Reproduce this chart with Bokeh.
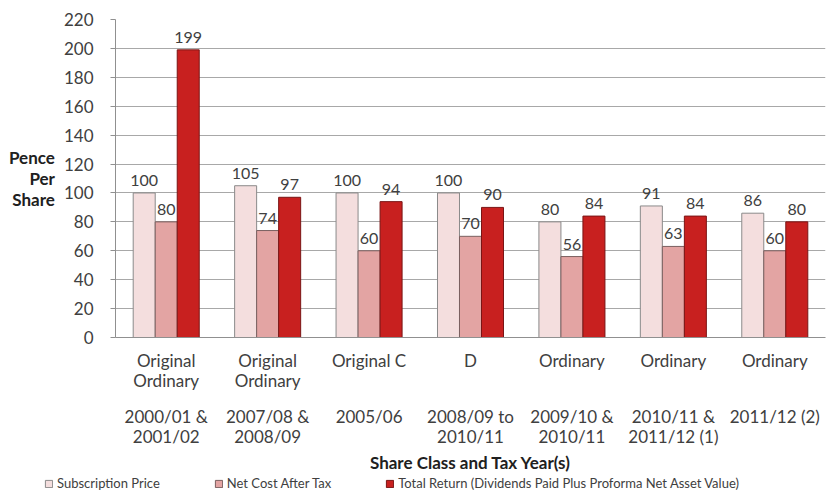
from bokeh.plotting import figure
from bokeh.models import (ColumnDataSource, LinearAxis, FixedTicker, Range1d,
                          Legend, LegendItem, LabelSet)
from bokeh.layouts import column, row
from bokeh.core.properties import value
from bokeh.embed import file_html
from bokeh.resources import INLINE

share_classes = ["Original\nOrdinary", "Original\nOrdinary", "Original C", "D",
                 "Ordinary", "Ordinary", "Ordinary"]
tax_years = ["2000/01 &\n2001/02", "2007/08 &\n2008/09", "2005/06",
             "2008/09 to\n2010/11", "2009/10 &\n2010/11", "2010/11 &\n2011/12 (1)",
             "2011/12 (2)"]
subscription_price = [100, 105, 100, 100, 80, 91, 86]
net_cost_after_tax = [80, 74, 60, 70, 56, 63, 60]
total_return = [199, 97, 94, 90, 84, 84, 80]
series_names = ["Subscription Price", "Net Cost After Tax",
                "Total Return (Dividends Paid Plus Proforma Net Asset Value)"]
y_ticks = [0, 20, 40, 60, 80, 100, 120, 140, 160, 180, 200, 220]

FONT = "Lato"
TXT = "#404040"
colors = ["#F4DEDE", "#E3A4A3", "#C8201F"]
borders = ["#8A8A8A", "#7A6060", "#7A1515"]

n = len(share_classes)
centers = [i + 0.5 for i in range(n)]
bw = 0.217

p = figure(width=826, height=476, output_backend="svg", toolbar_location=None,
           x_range=Range1d(0, n), y_range=Range1d(0, 220),
           x_axis_location=None, y_axis_location=None,
           min_border_left=115, min_border_right=1, min_border_top=19,
           min_border_bottom=138)
p.outline_line_color = None
p.background_fill_color = "white"
p.border_fill_color = "white"

p.xgrid.visible = False
p.ygrid.ticker = FixedTicker(ticks=y_ticks)
p.ygrid.grid_line_color = "#A8A8A8"
p.ygrid.grid_line_width = 1

# y axis
yax = LinearAxis(ticker=FixedTicker(ticks=y_ticks))
yax.axis_label = "Pence\nPer\nShare"
yax.axis_label_orientation = "horizontal"
yax.axis_label_text_font = FONT
yax.axis_label_text_font_style = "bold"
yax.axis_label_text_font_size = "17px"
yax.axis_label_text_color = "#202020"
yax.axis_label_text_line_height = 1.0
yax.axis_label_standoff = 6
yax.axis_label_text_align = "center"
yax.major_label_text_font = FONT
yax.major_label_text_font_size = "17px"
yax.major_label_text_color = TXT
yax.major_label_standoff = 17
yax.axis_line_color = "#909090"
yax.major_tick_line_color = "#909090"
yax.major_tick_out = 5
yax.major_tick_in = 0
yax.minor_tick_line_color = None
p.add_layout(yax, "left")

# bars
series = [subscription_price, net_cost_after_tax, total_return]
offsets = [-bw, 0, bw]
sources = []
for vals, off, c, bc in zip(series, offsets, colors, borders):
    src = ColumnDataSource(dict(x=[cx + off for cx in centers], top=vals,
                                lab=[str(v) for v in vals]))
    sources.append(src)
    p.vbar(x="x", top="top", bottom=0, width=bw, source=src,
           fill_color=c, line_color=bc, line_width=1)
    labels = LabelSet(x="x", y="top", text="lab", source=src,
                      text_align="center", text_baseline="bottom", y_offset=7,
                      text_font=value(FONT), text_font_size="16px",
                      text_color=TXT)
    p.add_layout(labels)

# x axes
xax1 = LinearAxis(ticker=FixedTicker(ticks=centers),
                  major_label_overrides={c: s for c, s in zip(centers, share_classes)})
xax1.axis_line_color = "#909090"
xax1.major_tick_line_color = None
xax1.minor_tick_line_color = None
xax1.major_tick_out = 0
xax1.major_label_standoff = 12
xax1.major_label_text_font = FONT
xax1.major_label_text_font_size = "17px"
xax1.major_label_text_color = TXT
xax1.major_label_text_align = "center"
xax1.major_label_text_line_height = 0.98
p.add_layout(xax1, "below")

xax2 = LinearAxis(ticker=FixedTicker(ticks=centers),
                  major_label_overrides={c: s for c, s in zip(centers, tax_years)})
xax2.axis_line_color = None
xax2.major_tick_line_color = None
xax2.minor_tick_line_color = None
xax2.major_tick_out = 0
xax2.major_label_standoff = 11
xax2.major_label_text_font = FONT
xax2.major_label_text_font_size = "17px"
xax2.major_label_text_color = TXT
xax2.major_label_text_align = "center"
xax2.major_label_text_line_height = 0.98
xax2.axis_label = "Share Class and Tax Year(s)"
xax2.axis_label_text_font = FONT
xax2.axis_label_text_font_style = "bold"
xax2.axis_label_text_font_size = "17px"
xax2.axis_label_text_color = "#202020"
xax2.axis_label_standoff = 2
p.add_layout(xax2, "below")

# legend strip (separate figure so it can sit under the axis titles)
pl = figure(width=826, height=15, output_backend="svg", toolbar_location=None,
            x_range=Range1d(0, n), y_range=Range1d(0, 220),
            x_axis_location=None, y_axis_location=None,
            min_border_left=0, min_border_right=0, min_border_top=0,
            min_border_bottom=0)
pl.outline_line_color = None
pl.grid.visible = False
leg_renderers = []
for src, c, bc in zip(sources, colors, borders):
    r = pl.vbar(x="x", top="top", bottom=0, width=bw, source=src,
                fill_color=c, line_color=bc, line_width=1, visible=False)
    leg_renderers.append(r)

legend = Legend(items=[LegendItem(label=nm, renderers=[r])
                       for nm, r in zip(series_names, leg_renderers)],
                orientation="horizontal", location=(44, 0),
                label_text_font=FONT, label_text_font_size="13px",
                label_text_line_height=1.0,
                label_text_color=TXT, glyph_width=9, glyph_height=9,
                label_standoff=4, spacing=54, padding=0, margin=0,
                border_line_color=None, background_fill_alpha=0,
                label_height=12, inactive_fill_alpha=0)
pl.add_layout(legend, "center")

layout = column(p, row(pl), spacing=0)
open("out.html", "w").write(file_html(layout, INLINE))
